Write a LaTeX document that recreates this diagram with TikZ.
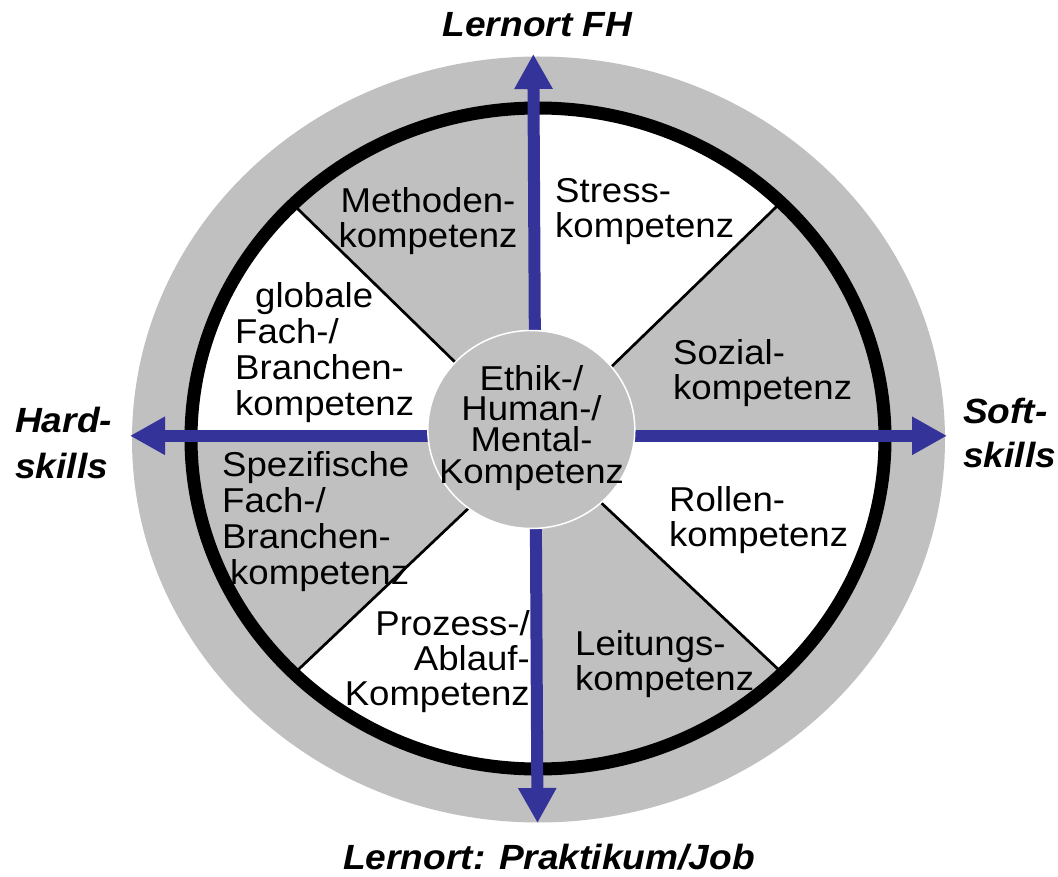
\documentclass[tikz,border=0pt]{standalone}
\usepackage{fontspec}
\setmainfont{Liberation Sans}[FakeStretch=1.06]
\usetikzlibrary{arrows.meta,shapes.geometric}
\definecolor{arrowblue}{RGB}{51,51,153}
\definecolor{wheelgray}{RGB}{192,192,192}
\newcommand{\stackC}[1]{\vtop{\lineskiplimit=-100pt\halign{\hfil##\hfil\cr#1\crcr}}}
\newcommand{\stackL}[1]{\vtop{\lineskiplimit=-100pt\halign{##\hfil\cr#1\crcr}}}
\newcommand{\stackR}[1]{\vtop{\lineskiplimit=-100pt\halign{\hfil##\cr#1\crcr}}}
\tikzset{
  lbl/.style={inner sep=0pt, font=\fontsize{34.5}{35}\selectfont},
  title/.style={inner sep=0pt, font=\fontsize{35}{45}\selectfont\bfseries\itshape},
  axis/.style={draw=arrowblue, line width=12pt,
    {Triangle[width=36pt,length=35pt]}-{Triangle[width=36pt,length=35pt]}},
  divider/.style={draw=black, line width=2.7pt},
  hub/.style={ellipse, fill=wheelgray, draw=white, line width=1.5pt,
    minimum width=207pt, minimum height=198pt, inner sep=0pt}
}
\begin{document}
\begin{tikzpicture}[x=1pt,y=-1pt]
\useasboundingbox (0,0) rectangle (1058,877);
% coordinates
\coordinate (tipL) at (130,435.8);
\coordinate (tipR) at (947,435.8);
\coordinate (tipT) at (533.3,54);
\coordinate (tipB) at (537.5,823);
\coordinate (ulIn) at (535,440);   \coordinate (ulOut) at (-224.6,-300);
\coordinate (urIn) at (540,436);   \coordinate (urOut) at (1300,-301);
\coordinate (lrIn) at (536,441.5); \coordinate (lrOut) at (1449,1300);
\coordinate (llIn) at (544.7,436); \coordinate (llOut) at (-300,1237);
% wheel
\fill[wheelgray] (538.5,439.5) ellipse [x radius=406.5pt, y radius=383pt];
\fill[white] (538,438.5) ellipse [x radius=347pt, y radius=330.5pt];
\begin{scope}
  \clip (538,438.5) ellipse [x radius=347pt, y radius=330.5pt];
  \fill[wheelgray] (ulIn) -- (535,-300) -- (ulOut) -- cycle;
  \fill[wheelgray] (urIn) -- (1300,436) -- (urOut) -- cycle;
  \fill[wheelgray] (lrIn) -- (536,1300) -- (lrOut) -- cycle;
  \fill[wheelgray] (llIn) -- (-300,436) -- (llOut) -- cycle;
  \draw[divider] (ulIn) -- (ulOut);
  \draw[divider] (urIn) -- (urOut);
  \draw[divider] (lrIn) -- (lrOut);
  \draw[divider] (llIn) -- (llOut);
\end{scope}
\draw[line width=13pt] (538,438.5) ellipse [x radius=347pt, y radius=330.5pt];
% axes
\draw[axis] (tipL) -- (tipR);
\draw[axis] (tipT) -- (tipB);
% hub
\node[hub] (ethik) at (531.3,429.5) {};
\node[lbl, font=\fontsize{34.5}{31}\selectfont, anchor=base] (ethikText) at (531.5,390)
  {\stackC{Ethik-/\cr Human-/\cr Mental-\cr Kompetenz}};
% sector labels
\node[lbl, anchor=base] (methoden) at (428,213) {\stackC{Methoden-\cr kompetenz}};
\node[lbl, anchor=base west] (stress) at (555,203) {\stackL{Stress-\cr kompetenz}};
\node[lbl, anchor=base west] (sozial) at (673,365) {\stackL{Sozial-\cr kompetenz}};
\node[lbl, anchor=base west] (rollen) at (669,511) {\stackL{Rollen-\cr kompetenz}};
\node[lbl, anchor=base west] (leitungs) at (575,655) {\stackL{Leitungs-\cr kompetenz}};
\node[lbl, anchor=base east] (prozess) at (530,635) {\stackR{Prozess-/\cr Ablauf-\cr Kompetenz}};
\node[lbl, font=\fontsize{34.5}{36}\selectfont, anchor=base west] (spezifisch) at (222,476)
  {\stackL{Spezifische\cr Fach-/\cr Branchen-\cr\hspace*{8pt}kompetenz}};
\node[lbl, font=\fontsize{34.5}{36}\selectfont, anchor=base west] (globale) at (235,308)
  {\stackL{\hspace*{20pt}globale\cr Fach-/\cr Branchen-\cr kompetenz}};
% axis titles
\node[title, anchor=base] (fh) at (537.5,37) {Lernort FH};
\node[title, anchor=base] (job) at (549,869) {Lernort: Praktikum/Job};
\node[title, font=\fontsize{35}{46}\selectfont\bfseries\itshape, anchor=base west] (hard) at (15,432) {\stackL{Hard-\cr skills}};
\node[title, font=\fontsize{35}{44}\selectfont\bfseries\itshape, anchor=base west] (soft) at (963,423) {\stackL{Soft-\cr skills}};
\end{tikzpicture}
\end{document}
